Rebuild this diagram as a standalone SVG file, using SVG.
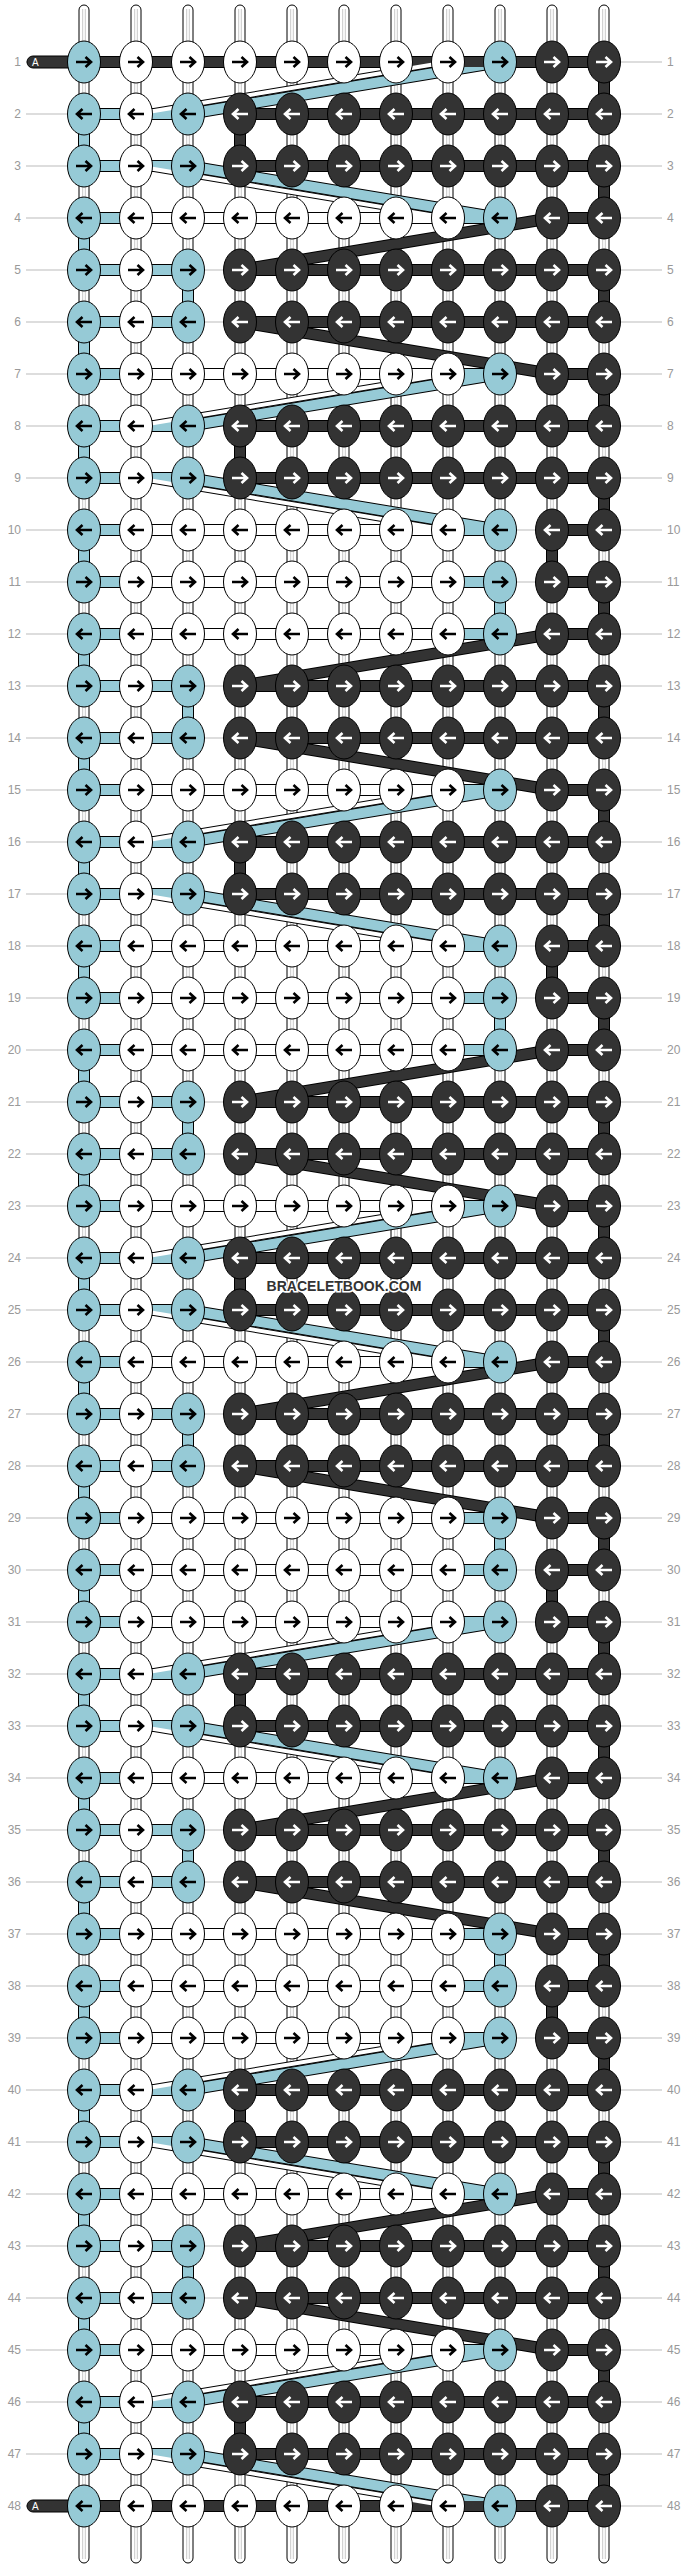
<svg xmlns="http://www.w3.org/2000/svg" width="688" height="2568" viewBox="0 0 688 2568">
<style>
.kb{fill:#96cad6;stroke:#000;stroke-width:1}
.kw{fill:#fff;stroke:#000;stroke-width:1}
.kd{fill:#333;stroke:#000;stroke-width:1}
.ak{fill:none;stroke:#000;stroke-width:2.6}
.aw{fill:none;stroke:#fff;stroke-width:2.6}
.lbl{font-family:"Liberation Sans",Arial,sans-serif;font-size:12px;fill:#999;text-anchor:end}
.lbr{font-family:"Liberation Sans",Arial,sans-serif;font-size:12px;fill:#999;text-anchor:start}
</style>
<defs>
<g id="tube"><rect x="-5" y="5" width="10" height="2558" rx="5" fill="#fff" stroke="#000"/><path d="M-1.3 9V2559M1.3 9V2559" stroke="#c8c8c8" fill="none"/></g>
<path id="aR" d="M-8 0H6M1.5-5L7 0L1.5 5"/>
<path id="aL" d="M8 0H-6M-1.5-5L-7 0L-1.5 5"/>
<g id="BR"><ellipse rx="16.5" ry="21" class="kb"/><use href="#aR" class="ak"/></g>
<g id="BL"><ellipse rx="16.5" ry="21" class="kb"/><use href="#aL" class="ak"/></g>
<g id="WR"><ellipse rx="16.5" ry="21" class="kw"/><use href="#aR" class="ak"/></g>
<g id="WL"><ellipse rx="16.5" ry="21" class="kw"/><use href="#aL" class="ak"/></g>
<g id="DR"><ellipse rx="16.5" ry="21" class="kd"/><use href="#aR" class="aw"/></g>
<g id="DL"><ellipse rx="16.5" ry="21" class="kd"/><use href="#aL" class="aw"/></g>
<path id="cD" d="M84 62H604M84 2506H604M552 218H604M552 374H604M552 530H604M552 582H604M552 634H604M552 790H604M552 946H604M552 998H604M552 1050H604M552 1206H604M552 1362H604M552 1518H604M552 1570H604M552 1622H604M552 1778H604M552 1934H604M552 1986H604M552 2038H604M552 2194H604M552 2350H604M240 114H604M240 166H604M240 270H604M240 322H604M240 426H604M240 478H604M240 686H604M240 738H604M240 842H604M240 894H604M240 1102H604M240 1154H604M240 1258H604M240 1310H604M240 1414H604M240 1466H604M240 1674H604M240 1726H604M240 1830H604M240 1882H604M240 2090H604M240 2142H604M240 2246H604M240 2298H604M240 2402H604M240 2454H604M604 62V114M604 166V218M604 270V322M604 374V426M604 478V530M604 582V634M604 686V738M604 790V842M604 894V946M604 998V1050M604 1102V1154M604 1206V1258M604 1310V1362M604 1414V1466M604 1518V1570M604 1622V1674M604 1726V1778M604 1830V1882M604 1934V1986M604 2038V2090M604 2142V2194M604 2246V2298M604 2350V2402M604 2454V2506M240 114V166M240 426V478M240 842V894M240 1258V1310M240 1674V1726M240 2090V2142M240 2402V2454M552 530V582M552 946V998M552 1570V1622M552 1986V2038M552 218L240 270M552 634L240 686M552 1050L240 1102M552 1362L240 1414M552 1778L240 1830M552 2194L240 2246M240 322L552 374M240 738L552 790M240 1154L552 1206M240 1466L552 1518M240 1882L552 1934M240 2298L552 2350"/>
<path id="cB" d="M84 218H136M448 218H500M84 374H136M448 374H500M84 530H136M448 530H500M84 582H136M448 582H500M84 634H136M448 634H500M84 790H136M448 790H500M84 946H136M448 946H500M84 998H136M448 998H500M84 1050H136M448 1050H500M84 1206H136M448 1206H500M84 1362H136M448 1362H500M84 1518H136M448 1518H500M84 1570H136M448 1570H500M84 1622H136M448 1622H500M84 1778H136M448 1778H500M84 1934H136M448 1934H500M84 1986H136M448 1986H500M84 2038H136M448 2038H500M84 2194H136M448 2194H500M84 2350H136M448 2350H500M84 114H188M84 166H188M84 270H188M84 322H188M84 426H188M84 478H188M84 686H188M84 738H188M84 842H188M84 894H188M84 1102H188M84 1154H188M84 1258H188M84 1310H188M84 1414H188M84 1466H188M84 1674H188M84 1726H188M84 1830H188M84 1882H188M84 2090H188M84 2142H188M84 2246H188M84 2298H188M84 2402H188M84 2454H188M84 114V166M84 218V270M84 322V374M84 426V478M84 530V582M84 634V686M84 738V790M84 842V894M84 946V998M84 1050V1102M84 1154V1206M84 1258V1310M84 1362V1414M84 1466V1518M84 1570V1622M84 1674V1726M84 1778V1830M84 1882V1934M84 1986V2038M84 2090V2142M84 2194V2246M84 2298V2350M84 2402V2454M188 270V322M188 686V738M188 1102V1154M188 1414V1466M188 1830V1882M188 2246V2298M500 582V634M500 998V1050M500 1518V1570M500 1934V1986M500 62L188 114M500 374L188 426M500 790L188 842M500 1206L188 1258M500 1622L188 1674M500 2038L188 2090M500 2350L188 2402M188 166L500 218M188 478L500 530M188 894L500 946M188 1310L500 1362M188 1726L500 1778M188 2142L500 2194M188 2454L500 2506"/>
<path id="cW" d="M136 218H448M136 374H448M136 530H448M136 582H448M136 634H448M136 790H448M136 946H448M136 998H448M136 1050H448M136 1206H448M136 1362H448M136 1518H448M136 1570H448M136 1622H448M136 1778H448M136 1934H448M136 1986H448M136 2038H448M136 2194H448M136 2350H448"/>
<path id="cWd" d="M448 62L136 114M448 374L136 426M448 790L136 842M448 1206L136 1258M448 1622L136 1674M448 2038L136 2090M448 2350L136 2402M136 166L448 218M136 478L448 530M136 894L448 946M136 1310L448 1362M136 1726L448 1778M136 2142L448 2194M136 2454L448 2506"/>
</defs>
<rect width="688" height="2568" fill="#fff"/>
<g id="guides">
<path d="M26 62H662M26 114H662M26 166H662M26 218H662M26 270H662M26 322H662M26 374H662M26 426H662M26 478H662M26 530H662M26 582H662M26 634H662M26 686H662M26 738H662M26 790H662M26 842H662M26 894H662M26 946H662M26 998H662M26 1050H662M26 1102H662M26 1154H662M26 1206H662M26 1258H662M26 1310H662M26 1362H662M26 1414H662M26 1466H662M26 1518H662M26 1570H662M26 1622H662M26 1674H662M26 1726H662M26 1778H662M26 1830H662M26 1882H662M26 1934H662M26 1986H662M26 2038H662M26 2090H662M26 2142H662M26 2194H662M26 2246H662M26 2298H662M26 2350H662M26 2402H662M26 2454H662M26 2506H662" stroke="#bbb" stroke-width="1" fill="none"/>
</g>
<g id="labels">
<text class="lbl" x="21" y="66">1</text><text class="lbr" x="667" y="66">1</text>
<text class="lbl" x="21" y="118">2</text><text class="lbr" x="667" y="118">2</text>
<text class="lbl" x="21" y="170">3</text><text class="lbr" x="667" y="170">3</text>
<text class="lbl" x="21" y="222">4</text><text class="lbr" x="667" y="222">4</text>
<text class="lbl" x="21" y="274">5</text><text class="lbr" x="667" y="274">5</text>
<text class="lbl" x="21" y="326">6</text><text class="lbr" x="667" y="326">6</text>
<text class="lbl" x="21" y="378">7</text><text class="lbr" x="667" y="378">7</text>
<text class="lbl" x="21" y="430">8</text><text class="lbr" x="667" y="430">8</text>
<text class="lbl" x="21" y="482">9</text><text class="lbr" x="667" y="482">9</text>
<text class="lbl" x="21" y="534">10</text><text class="lbr" x="667" y="534">10</text>
<text class="lbl" x="21" y="586">11</text><text class="lbr" x="667" y="586">11</text>
<text class="lbl" x="21" y="638">12</text><text class="lbr" x="667" y="638">12</text>
<text class="lbl" x="21" y="690">13</text><text class="lbr" x="667" y="690">13</text>
<text class="lbl" x="21" y="742">14</text><text class="lbr" x="667" y="742">14</text>
<text class="lbl" x="21" y="794">15</text><text class="lbr" x="667" y="794">15</text>
<text class="lbl" x="21" y="846">16</text><text class="lbr" x="667" y="846">16</text>
<text class="lbl" x="21" y="898">17</text><text class="lbr" x="667" y="898">17</text>
<text class="lbl" x="21" y="950">18</text><text class="lbr" x="667" y="950">18</text>
<text class="lbl" x="21" y="1002">19</text><text class="lbr" x="667" y="1002">19</text>
<text class="lbl" x="21" y="1054">20</text><text class="lbr" x="667" y="1054">20</text>
<text class="lbl" x="21" y="1106">21</text><text class="lbr" x="667" y="1106">21</text>
<text class="lbl" x="21" y="1158">22</text><text class="lbr" x="667" y="1158">22</text>
<text class="lbl" x="21" y="1210">23</text><text class="lbr" x="667" y="1210">23</text>
<text class="lbl" x="21" y="1262">24</text><text class="lbr" x="667" y="1262">24</text>
<text class="lbl" x="21" y="1314">25</text><text class="lbr" x="667" y="1314">25</text>
<text class="lbl" x="21" y="1366">26</text><text class="lbr" x="667" y="1366">26</text>
<text class="lbl" x="21" y="1418">27</text><text class="lbr" x="667" y="1418">27</text>
<text class="lbl" x="21" y="1470">28</text><text class="lbr" x="667" y="1470">28</text>
<text class="lbl" x="21" y="1522">29</text><text class="lbr" x="667" y="1522">29</text>
<text class="lbl" x="21" y="1574">30</text><text class="lbr" x="667" y="1574">30</text>
<text class="lbl" x="21" y="1626">31</text><text class="lbr" x="667" y="1626">31</text>
<text class="lbl" x="21" y="1678">32</text><text class="lbr" x="667" y="1678">32</text>
<text class="lbl" x="21" y="1730">33</text><text class="lbr" x="667" y="1730">33</text>
<text class="lbl" x="21" y="1782">34</text><text class="lbr" x="667" y="1782">34</text>
<text class="lbl" x="21" y="1834">35</text><text class="lbr" x="667" y="1834">35</text>
<text class="lbl" x="21" y="1886">36</text><text class="lbr" x="667" y="1886">36</text>
<text class="lbl" x="21" y="1938">37</text><text class="lbr" x="667" y="1938">37</text>
<text class="lbl" x="21" y="1990">38</text><text class="lbr" x="667" y="1990">38</text>
<text class="lbl" x="21" y="2042">39</text><text class="lbr" x="667" y="2042">39</text>
<text class="lbl" x="21" y="2094">40</text><text class="lbr" x="667" y="2094">40</text>
<text class="lbl" x="21" y="2146">41</text><text class="lbr" x="667" y="2146">41</text>
<text class="lbl" x="21" y="2198">42</text><text class="lbr" x="667" y="2198">42</text>
<text class="lbl" x="21" y="2250">43</text><text class="lbr" x="667" y="2250">43</text>
<text class="lbl" x="21" y="2302">44</text><text class="lbr" x="667" y="2302">44</text>
<text class="lbl" x="21" y="2354">45</text><text class="lbr" x="667" y="2354">45</text>
<text class="lbl" x="21" y="2406">46</text><text class="lbr" x="667" y="2406">46</text>
<text class="lbl" x="21" y="2458">47</text><text class="lbr" x="667" y="2458">47</text>
<text class="lbl" x="21" y="2510">48</text><text class="lbr" x="667" y="2510">48</text>
</g>
<g id="strings">
<use href="#tube" x="84"/><use href="#tube" x="136"/><use href="#tube" x="188"/><use href="#tube" x="240"/><use href="#tube" x="292"/><use href="#tube" x="344"/><use href="#tube" x="396"/><use href="#tube" x="448"/><use href="#tube" x="500"/><use href="#tube" x="552"/><use href="#tube" x="604"/>
</g>
<g id="connectors" fill="none">
<use href="#cD" stroke="#000" stroke-width="12"/>
<use href="#cB" stroke="#000" stroke-width="12"/>
<use href="#cW" stroke="#000" stroke-width="12"/>
<use href="#cWd" stroke="#000" stroke-width="6"/>
<use href="#cW" stroke="#fff" stroke-width="10"/>
<use href="#cB" stroke="#96cad6" stroke-width="10"/>
<use href="#cD" stroke="#333" stroke-width="10"/>
<use href="#cWd" stroke="#fff" stroke-width="4"/>
</g>
<g id="startA">
<rect x="27" y="56" width="60" height="12" rx="6" fill="#333" stroke="#000"/>
<text x="32" y="66" font-family="Liberation Sans,Arial,sans-serif" font-size="10" fill="#fff">A</text>
</g>
<g id="endA">
<rect x="27" y="2500" width="60" height="12" rx="6" fill="#333" stroke="#000"/>
<text x="32" y="2510" font-family="Liberation Sans,Arial,sans-serif" font-size="10" fill="#fff">A</text>
</g>
<g id="knots">
<g id="row1" transform="translate(0 62)"><use id="k1-1" href="#BR" x="84"/><use id="k1-2" href="#WR" x="136"/><use id="k1-3" href="#WR" x="188"/><use id="k1-4" href="#WR" x="240"/><use id="k1-5" href="#WR" x="292"/><use id="k1-6" href="#WR" x="344"/><use id="k1-7" href="#WR" x="396"/><use id="k1-8" href="#WR" x="448"/><use id="k1-9" href="#BR" x="500"/><use id="k1-10" href="#DR" x="552"/><use id="k1-11" href="#DR" x="604"/></g>
<g id="row2" transform="translate(0 114)"><use id="k2-1" href="#BL" x="84"/><use id="k2-2" href="#WL" x="136"/><use id="k2-3" href="#BL" x="188"/><use id="k2-4" href="#DL" x="240"/><use id="k2-5" href="#DL" x="292"/><use id="k2-6" href="#DL" x="344"/><use id="k2-7" href="#DL" x="396"/><use id="k2-8" href="#DL" x="448"/><use id="k2-9" href="#DL" x="500"/><use id="k2-10" href="#DL" x="552"/><use id="k2-11" href="#DL" x="604"/></g>
<g id="row3" transform="translate(0 166)"><use id="k3-1" href="#BR" x="84"/><use id="k3-2" href="#WR" x="136"/><use id="k3-3" href="#BR" x="188"/><use id="k3-4" href="#DR" x="240"/><use id="k3-5" href="#DR" x="292"/><use id="k3-6" href="#DR" x="344"/><use id="k3-7" href="#DR" x="396"/><use id="k3-8" href="#DR" x="448"/><use id="k3-9" href="#DR" x="500"/><use id="k3-10" href="#DR" x="552"/><use id="k3-11" href="#DR" x="604"/></g>
<g id="row4" transform="translate(0 218)"><use id="k4-1" href="#BL" x="84"/><use id="k4-2" href="#WL" x="136"/><use id="k4-3" href="#WL" x="188"/><use id="k4-4" href="#WL" x="240"/><use id="k4-5" href="#WL" x="292"/><use id="k4-6" href="#WL" x="344"/><use id="k4-7" href="#WL" x="396"/><use id="k4-8" href="#WL" x="448"/><use id="k4-9" href="#BL" x="500"/><use id="k4-10" href="#DL" x="552"/><use id="k4-11" href="#DL" x="604"/></g>
<g id="row5" transform="translate(0 270)"><use id="k5-1" href="#BR" x="84"/><use id="k5-2" href="#WR" x="136"/><use id="k5-3" href="#BR" x="188"/><use id="k5-4" href="#DR" x="240"/><use id="k5-5" href="#DR" x="292"/><use id="k5-6" href="#DR" x="344"/><use id="k5-7" href="#DR" x="396"/><use id="k5-8" href="#DR" x="448"/><use id="k5-9" href="#DR" x="500"/><use id="k5-10" href="#DR" x="552"/><use id="k5-11" href="#DR" x="604"/></g>
<g id="row6" transform="translate(0 322)"><use id="k6-1" href="#BL" x="84"/><use id="k6-2" href="#WL" x="136"/><use id="k6-3" href="#BL" x="188"/><use id="k6-4" href="#DL" x="240"/><use id="k6-5" href="#DL" x="292"/><use id="k6-6" href="#DL" x="344"/><use id="k6-7" href="#DL" x="396"/><use id="k6-8" href="#DL" x="448"/><use id="k6-9" href="#DL" x="500"/><use id="k6-10" href="#DL" x="552"/><use id="k6-11" href="#DL" x="604"/></g>
<g id="row7" transform="translate(0 374)"><use id="k7-1" href="#BR" x="84"/><use id="k7-2" href="#WR" x="136"/><use id="k7-3" href="#WR" x="188"/><use id="k7-4" href="#WR" x="240"/><use id="k7-5" href="#WR" x="292"/><use id="k7-6" href="#WR" x="344"/><use id="k7-7" href="#WR" x="396"/><use id="k7-8" href="#WR" x="448"/><use id="k7-9" href="#BR" x="500"/><use id="k7-10" href="#DR" x="552"/><use id="k7-11" href="#DR" x="604"/></g>
<g id="row8" transform="translate(0 426)"><use id="k8-1" href="#BL" x="84"/><use id="k8-2" href="#WL" x="136"/><use id="k8-3" href="#BL" x="188"/><use id="k8-4" href="#DL" x="240"/><use id="k8-5" href="#DL" x="292"/><use id="k8-6" href="#DL" x="344"/><use id="k8-7" href="#DL" x="396"/><use id="k8-8" href="#DL" x="448"/><use id="k8-9" href="#DL" x="500"/><use id="k8-10" href="#DL" x="552"/><use id="k8-11" href="#DL" x="604"/></g>
<g id="row9" transform="translate(0 478)"><use id="k9-1" href="#BR" x="84"/><use id="k9-2" href="#WR" x="136"/><use id="k9-3" href="#BR" x="188"/><use id="k9-4" href="#DR" x="240"/><use id="k9-5" href="#DR" x="292"/><use id="k9-6" href="#DR" x="344"/><use id="k9-7" href="#DR" x="396"/><use id="k9-8" href="#DR" x="448"/><use id="k9-9" href="#DR" x="500"/><use id="k9-10" href="#DR" x="552"/><use id="k9-11" href="#DR" x="604"/></g>
<g id="row10" transform="translate(0 530)"><use id="k10-1" href="#BL" x="84"/><use id="k10-2" href="#WL" x="136"/><use id="k10-3" href="#WL" x="188"/><use id="k10-4" href="#WL" x="240"/><use id="k10-5" href="#WL" x="292"/><use id="k10-6" href="#WL" x="344"/><use id="k10-7" href="#WL" x="396"/><use id="k10-8" href="#WL" x="448"/><use id="k10-9" href="#BL" x="500"/><use id="k10-10" href="#DL" x="552"/><use id="k10-11" href="#DL" x="604"/></g>
<g id="row11" transform="translate(0 582)"><use id="k11-1" href="#BR" x="84"/><use id="k11-2" href="#WR" x="136"/><use id="k11-3" href="#WR" x="188"/><use id="k11-4" href="#WR" x="240"/><use id="k11-5" href="#WR" x="292"/><use id="k11-6" href="#WR" x="344"/><use id="k11-7" href="#WR" x="396"/><use id="k11-8" href="#WR" x="448"/><use id="k11-9" href="#BR" x="500"/><use id="k11-10" href="#DR" x="552"/><use id="k11-11" href="#DR" x="604"/></g>
<g id="row12" transform="translate(0 634)"><use id="k12-1" href="#BL" x="84"/><use id="k12-2" href="#WL" x="136"/><use id="k12-3" href="#WL" x="188"/><use id="k12-4" href="#WL" x="240"/><use id="k12-5" href="#WL" x="292"/><use id="k12-6" href="#WL" x="344"/><use id="k12-7" href="#WL" x="396"/><use id="k12-8" href="#WL" x="448"/><use id="k12-9" href="#BL" x="500"/><use id="k12-10" href="#DL" x="552"/><use id="k12-11" href="#DL" x="604"/></g>
<g id="row13" transform="translate(0 686)"><use id="k13-1" href="#BR" x="84"/><use id="k13-2" href="#WR" x="136"/><use id="k13-3" href="#BR" x="188"/><use id="k13-4" href="#DR" x="240"/><use id="k13-5" href="#DR" x="292"/><use id="k13-6" href="#DR" x="344"/><use id="k13-7" href="#DR" x="396"/><use id="k13-8" href="#DR" x="448"/><use id="k13-9" href="#DR" x="500"/><use id="k13-10" href="#DR" x="552"/><use id="k13-11" href="#DR" x="604"/></g>
<g id="row14" transform="translate(0 738)"><use id="k14-1" href="#BL" x="84"/><use id="k14-2" href="#WL" x="136"/><use id="k14-3" href="#BL" x="188"/><use id="k14-4" href="#DL" x="240"/><use id="k14-5" href="#DL" x="292"/><use id="k14-6" href="#DL" x="344"/><use id="k14-7" href="#DL" x="396"/><use id="k14-8" href="#DL" x="448"/><use id="k14-9" href="#DL" x="500"/><use id="k14-10" href="#DL" x="552"/><use id="k14-11" href="#DL" x="604"/></g>
<g id="row15" transform="translate(0 790)"><use id="k15-1" href="#BR" x="84"/><use id="k15-2" href="#WR" x="136"/><use id="k15-3" href="#WR" x="188"/><use id="k15-4" href="#WR" x="240"/><use id="k15-5" href="#WR" x="292"/><use id="k15-6" href="#WR" x="344"/><use id="k15-7" href="#WR" x="396"/><use id="k15-8" href="#WR" x="448"/><use id="k15-9" href="#BR" x="500"/><use id="k15-10" href="#DR" x="552"/><use id="k15-11" href="#DR" x="604"/></g>
<g id="row16" transform="translate(0 842)"><use id="k16-1" href="#BL" x="84"/><use id="k16-2" href="#WL" x="136"/><use id="k16-3" href="#BL" x="188"/><use id="k16-4" href="#DL" x="240"/><use id="k16-5" href="#DL" x="292"/><use id="k16-6" href="#DL" x="344"/><use id="k16-7" href="#DL" x="396"/><use id="k16-8" href="#DL" x="448"/><use id="k16-9" href="#DL" x="500"/><use id="k16-10" href="#DL" x="552"/><use id="k16-11" href="#DL" x="604"/></g>
<g id="row17" transform="translate(0 894)"><use id="k17-1" href="#BR" x="84"/><use id="k17-2" href="#WR" x="136"/><use id="k17-3" href="#BR" x="188"/><use id="k17-4" href="#DR" x="240"/><use id="k17-5" href="#DR" x="292"/><use id="k17-6" href="#DR" x="344"/><use id="k17-7" href="#DR" x="396"/><use id="k17-8" href="#DR" x="448"/><use id="k17-9" href="#DR" x="500"/><use id="k17-10" href="#DR" x="552"/><use id="k17-11" href="#DR" x="604"/></g>
<g id="row18" transform="translate(0 946)"><use id="k18-1" href="#BL" x="84"/><use id="k18-2" href="#WL" x="136"/><use id="k18-3" href="#WL" x="188"/><use id="k18-4" href="#WL" x="240"/><use id="k18-5" href="#WL" x="292"/><use id="k18-6" href="#WL" x="344"/><use id="k18-7" href="#WL" x="396"/><use id="k18-8" href="#WL" x="448"/><use id="k18-9" href="#BL" x="500"/><use id="k18-10" href="#DL" x="552"/><use id="k18-11" href="#DL" x="604"/></g>
<g id="row19" transform="translate(0 998)"><use id="k19-1" href="#BR" x="84"/><use id="k19-2" href="#WR" x="136"/><use id="k19-3" href="#WR" x="188"/><use id="k19-4" href="#WR" x="240"/><use id="k19-5" href="#WR" x="292"/><use id="k19-6" href="#WR" x="344"/><use id="k19-7" href="#WR" x="396"/><use id="k19-8" href="#WR" x="448"/><use id="k19-9" href="#BR" x="500"/><use id="k19-10" href="#DR" x="552"/><use id="k19-11" href="#DR" x="604"/></g>
<g id="row20" transform="translate(0 1050)"><use id="k20-1" href="#BL" x="84"/><use id="k20-2" href="#WL" x="136"/><use id="k20-3" href="#WL" x="188"/><use id="k20-4" href="#WL" x="240"/><use id="k20-5" href="#WL" x="292"/><use id="k20-6" href="#WL" x="344"/><use id="k20-7" href="#WL" x="396"/><use id="k20-8" href="#WL" x="448"/><use id="k20-9" href="#BL" x="500"/><use id="k20-10" href="#DL" x="552"/><use id="k20-11" href="#DL" x="604"/></g>
<g id="row21" transform="translate(0 1102)"><use id="k21-1" href="#BR" x="84"/><use id="k21-2" href="#WR" x="136"/><use id="k21-3" href="#BR" x="188"/><use id="k21-4" href="#DR" x="240"/><use id="k21-5" href="#DR" x="292"/><use id="k21-6" href="#DR" x="344"/><use id="k21-7" href="#DR" x="396"/><use id="k21-8" href="#DR" x="448"/><use id="k21-9" href="#DR" x="500"/><use id="k21-10" href="#DR" x="552"/><use id="k21-11" href="#DR" x="604"/></g>
<g id="row22" transform="translate(0 1154)"><use id="k22-1" href="#BL" x="84"/><use id="k22-2" href="#WL" x="136"/><use id="k22-3" href="#BL" x="188"/><use id="k22-4" href="#DL" x="240"/><use id="k22-5" href="#DL" x="292"/><use id="k22-6" href="#DL" x="344"/><use id="k22-7" href="#DL" x="396"/><use id="k22-8" href="#DL" x="448"/><use id="k22-9" href="#DL" x="500"/><use id="k22-10" href="#DL" x="552"/><use id="k22-11" href="#DL" x="604"/></g>
<g id="row23" transform="translate(0 1206)"><use id="k23-1" href="#BR" x="84"/><use id="k23-2" href="#WR" x="136"/><use id="k23-3" href="#WR" x="188"/><use id="k23-4" href="#WR" x="240"/><use id="k23-5" href="#WR" x="292"/><use id="k23-6" href="#WR" x="344"/><use id="k23-7" href="#WR" x="396"/><use id="k23-8" href="#WR" x="448"/><use id="k23-9" href="#BR" x="500"/><use id="k23-10" href="#DR" x="552"/><use id="k23-11" href="#DR" x="604"/></g>
<g id="row24" transform="translate(0 1258)"><use id="k24-1" href="#BL" x="84"/><use id="k24-2" href="#WL" x="136"/><use id="k24-3" href="#BL" x="188"/><use id="k24-4" href="#DL" x="240"/><use id="k24-5" href="#DL" x="292"/><use id="k24-6" href="#DL" x="344"/><use id="k24-7" href="#DL" x="396"/><use id="k24-8" href="#DL" x="448"/><use id="k24-9" href="#DL" x="500"/><use id="k24-10" href="#DL" x="552"/><use id="k24-11" href="#DL" x="604"/></g>
<g id="row25" transform="translate(0 1310)"><use id="k25-1" href="#BR" x="84"/><use id="k25-2" href="#WR" x="136"/><use id="k25-3" href="#BR" x="188"/><use id="k25-4" href="#DR" x="240"/><use id="k25-5" href="#DR" x="292"/><use id="k25-6" href="#DR" x="344"/><use id="k25-7" href="#DR" x="396"/><use id="k25-8" href="#DR" x="448"/><use id="k25-9" href="#DR" x="500"/><use id="k25-10" href="#DR" x="552"/><use id="k25-11" href="#DR" x="604"/></g>
<g id="row26" transform="translate(0 1362)"><use id="k26-1" href="#BL" x="84"/><use id="k26-2" href="#WL" x="136"/><use id="k26-3" href="#WL" x="188"/><use id="k26-4" href="#WL" x="240"/><use id="k26-5" href="#WL" x="292"/><use id="k26-6" href="#WL" x="344"/><use id="k26-7" href="#WL" x="396"/><use id="k26-8" href="#WL" x="448"/><use id="k26-9" href="#BL" x="500"/><use id="k26-10" href="#DL" x="552"/><use id="k26-11" href="#DL" x="604"/></g>
<g id="row27" transform="translate(0 1414)"><use id="k27-1" href="#BR" x="84"/><use id="k27-2" href="#WR" x="136"/><use id="k27-3" href="#BR" x="188"/><use id="k27-4" href="#DR" x="240"/><use id="k27-5" href="#DR" x="292"/><use id="k27-6" href="#DR" x="344"/><use id="k27-7" href="#DR" x="396"/><use id="k27-8" href="#DR" x="448"/><use id="k27-9" href="#DR" x="500"/><use id="k27-10" href="#DR" x="552"/><use id="k27-11" href="#DR" x="604"/></g>
<g id="row28" transform="translate(0 1466)"><use id="k28-1" href="#BL" x="84"/><use id="k28-2" href="#WL" x="136"/><use id="k28-3" href="#BL" x="188"/><use id="k28-4" href="#DL" x="240"/><use id="k28-5" href="#DL" x="292"/><use id="k28-6" href="#DL" x="344"/><use id="k28-7" href="#DL" x="396"/><use id="k28-8" href="#DL" x="448"/><use id="k28-9" href="#DL" x="500"/><use id="k28-10" href="#DL" x="552"/><use id="k28-11" href="#DL" x="604"/></g>
<g id="row29" transform="translate(0 1518)"><use id="k29-1" href="#BR" x="84"/><use id="k29-2" href="#WR" x="136"/><use id="k29-3" href="#WR" x="188"/><use id="k29-4" href="#WR" x="240"/><use id="k29-5" href="#WR" x="292"/><use id="k29-6" href="#WR" x="344"/><use id="k29-7" href="#WR" x="396"/><use id="k29-8" href="#WR" x="448"/><use id="k29-9" href="#BR" x="500"/><use id="k29-10" href="#DR" x="552"/><use id="k29-11" href="#DR" x="604"/></g>
<g id="row30" transform="translate(0 1570)"><use id="k30-1" href="#BL" x="84"/><use id="k30-2" href="#WL" x="136"/><use id="k30-3" href="#WL" x="188"/><use id="k30-4" href="#WL" x="240"/><use id="k30-5" href="#WL" x="292"/><use id="k30-6" href="#WL" x="344"/><use id="k30-7" href="#WL" x="396"/><use id="k30-8" href="#WL" x="448"/><use id="k30-9" href="#BL" x="500"/><use id="k30-10" href="#DL" x="552"/><use id="k30-11" href="#DL" x="604"/></g>
<g id="row31" transform="translate(0 1622)"><use id="k31-1" href="#BR" x="84"/><use id="k31-2" href="#WR" x="136"/><use id="k31-3" href="#WR" x="188"/><use id="k31-4" href="#WR" x="240"/><use id="k31-5" href="#WR" x="292"/><use id="k31-6" href="#WR" x="344"/><use id="k31-7" href="#WR" x="396"/><use id="k31-8" href="#WR" x="448"/><use id="k31-9" href="#BR" x="500"/><use id="k31-10" href="#DR" x="552"/><use id="k31-11" href="#DR" x="604"/></g>
<g id="row32" transform="translate(0 1674)"><use id="k32-1" href="#BL" x="84"/><use id="k32-2" href="#WL" x="136"/><use id="k32-3" href="#BL" x="188"/><use id="k32-4" href="#DL" x="240"/><use id="k32-5" href="#DL" x="292"/><use id="k32-6" href="#DL" x="344"/><use id="k32-7" href="#DL" x="396"/><use id="k32-8" href="#DL" x="448"/><use id="k32-9" href="#DL" x="500"/><use id="k32-10" href="#DL" x="552"/><use id="k32-11" href="#DL" x="604"/></g>
<g id="row33" transform="translate(0 1726)"><use id="k33-1" href="#BR" x="84"/><use id="k33-2" href="#WR" x="136"/><use id="k33-3" href="#BR" x="188"/><use id="k33-4" href="#DR" x="240"/><use id="k33-5" href="#DR" x="292"/><use id="k33-6" href="#DR" x="344"/><use id="k33-7" href="#DR" x="396"/><use id="k33-8" href="#DR" x="448"/><use id="k33-9" href="#DR" x="500"/><use id="k33-10" href="#DR" x="552"/><use id="k33-11" href="#DR" x="604"/></g>
<g id="row34" transform="translate(0 1778)"><use id="k34-1" href="#BL" x="84"/><use id="k34-2" href="#WL" x="136"/><use id="k34-3" href="#WL" x="188"/><use id="k34-4" href="#WL" x="240"/><use id="k34-5" href="#WL" x="292"/><use id="k34-6" href="#WL" x="344"/><use id="k34-7" href="#WL" x="396"/><use id="k34-8" href="#WL" x="448"/><use id="k34-9" href="#BL" x="500"/><use id="k34-10" href="#DL" x="552"/><use id="k34-11" href="#DL" x="604"/></g>
<g id="row35" transform="translate(0 1830)"><use id="k35-1" href="#BR" x="84"/><use id="k35-2" href="#WR" x="136"/><use id="k35-3" href="#BR" x="188"/><use id="k35-4" href="#DR" x="240"/><use id="k35-5" href="#DR" x="292"/><use id="k35-6" href="#DR" x="344"/><use id="k35-7" href="#DR" x="396"/><use id="k35-8" href="#DR" x="448"/><use id="k35-9" href="#DR" x="500"/><use id="k35-10" href="#DR" x="552"/><use id="k35-11" href="#DR" x="604"/></g>
<g id="row36" transform="translate(0 1882)"><use id="k36-1" href="#BL" x="84"/><use id="k36-2" href="#WL" x="136"/><use id="k36-3" href="#BL" x="188"/><use id="k36-4" href="#DL" x="240"/><use id="k36-5" href="#DL" x="292"/><use id="k36-6" href="#DL" x="344"/><use id="k36-7" href="#DL" x="396"/><use id="k36-8" href="#DL" x="448"/><use id="k36-9" href="#DL" x="500"/><use id="k36-10" href="#DL" x="552"/><use id="k36-11" href="#DL" x="604"/></g>
<g id="row37" transform="translate(0 1934)"><use id="k37-1" href="#BR" x="84"/><use id="k37-2" href="#WR" x="136"/><use id="k37-3" href="#WR" x="188"/><use id="k37-4" href="#WR" x="240"/><use id="k37-5" href="#WR" x="292"/><use id="k37-6" href="#WR" x="344"/><use id="k37-7" href="#WR" x="396"/><use id="k37-8" href="#WR" x="448"/><use id="k37-9" href="#BR" x="500"/><use id="k37-10" href="#DR" x="552"/><use id="k37-11" href="#DR" x="604"/></g>
<g id="row38" transform="translate(0 1986)"><use id="k38-1" href="#BL" x="84"/><use id="k38-2" href="#WL" x="136"/><use id="k38-3" href="#WL" x="188"/><use id="k38-4" href="#WL" x="240"/><use id="k38-5" href="#WL" x="292"/><use id="k38-6" href="#WL" x="344"/><use id="k38-7" href="#WL" x="396"/><use id="k38-8" href="#WL" x="448"/><use id="k38-9" href="#BL" x="500"/><use id="k38-10" href="#DL" x="552"/><use id="k38-11" href="#DL" x="604"/></g>
<g id="row39" transform="translate(0 2038)"><use id="k39-1" href="#BR" x="84"/><use id="k39-2" href="#WR" x="136"/><use id="k39-3" href="#WR" x="188"/><use id="k39-4" href="#WR" x="240"/><use id="k39-5" href="#WR" x="292"/><use id="k39-6" href="#WR" x="344"/><use id="k39-7" href="#WR" x="396"/><use id="k39-8" href="#WR" x="448"/><use id="k39-9" href="#BR" x="500"/><use id="k39-10" href="#DR" x="552"/><use id="k39-11" href="#DR" x="604"/></g>
<g id="row40" transform="translate(0 2090)"><use id="k40-1" href="#BL" x="84"/><use id="k40-2" href="#WL" x="136"/><use id="k40-3" href="#BL" x="188"/><use id="k40-4" href="#DL" x="240"/><use id="k40-5" href="#DL" x="292"/><use id="k40-6" href="#DL" x="344"/><use id="k40-7" href="#DL" x="396"/><use id="k40-8" href="#DL" x="448"/><use id="k40-9" href="#DL" x="500"/><use id="k40-10" href="#DL" x="552"/><use id="k40-11" href="#DL" x="604"/></g>
<g id="row41" transform="translate(0 2142)"><use id="k41-1" href="#BR" x="84"/><use id="k41-2" href="#WR" x="136"/><use id="k41-3" href="#BR" x="188"/><use id="k41-4" href="#DR" x="240"/><use id="k41-5" href="#DR" x="292"/><use id="k41-6" href="#DR" x="344"/><use id="k41-7" href="#DR" x="396"/><use id="k41-8" href="#DR" x="448"/><use id="k41-9" href="#DR" x="500"/><use id="k41-10" href="#DR" x="552"/><use id="k41-11" href="#DR" x="604"/></g>
<g id="row42" transform="translate(0 2194)"><use id="k42-1" href="#BL" x="84"/><use id="k42-2" href="#WL" x="136"/><use id="k42-3" href="#WL" x="188"/><use id="k42-4" href="#WL" x="240"/><use id="k42-5" href="#WL" x="292"/><use id="k42-6" href="#WL" x="344"/><use id="k42-7" href="#WL" x="396"/><use id="k42-8" href="#WL" x="448"/><use id="k42-9" href="#BL" x="500"/><use id="k42-10" href="#DL" x="552"/><use id="k42-11" href="#DL" x="604"/></g>
<g id="row43" transform="translate(0 2246)"><use id="k43-1" href="#BR" x="84"/><use id="k43-2" href="#WR" x="136"/><use id="k43-3" href="#BR" x="188"/><use id="k43-4" href="#DR" x="240"/><use id="k43-5" href="#DR" x="292"/><use id="k43-6" href="#DR" x="344"/><use id="k43-7" href="#DR" x="396"/><use id="k43-8" href="#DR" x="448"/><use id="k43-9" href="#DR" x="500"/><use id="k43-10" href="#DR" x="552"/><use id="k43-11" href="#DR" x="604"/></g>
<g id="row44" transform="translate(0 2298)"><use id="k44-1" href="#BL" x="84"/><use id="k44-2" href="#WL" x="136"/><use id="k44-3" href="#BL" x="188"/><use id="k44-4" href="#DL" x="240"/><use id="k44-5" href="#DL" x="292"/><use id="k44-6" href="#DL" x="344"/><use id="k44-7" href="#DL" x="396"/><use id="k44-8" href="#DL" x="448"/><use id="k44-9" href="#DL" x="500"/><use id="k44-10" href="#DL" x="552"/><use id="k44-11" href="#DL" x="604"/></g>
<g id="row45" transform="translate(0 2350)"><use id="k45-1" href="#BR" x="84"/><use id="k45-2" href="#WR" x="136"/><use id="k45-3" href="#WR" x="188"/><use id="k45-4" href="#WR" x="240"/><use id="k45-5" href="#WR" x="292"/><use id="k45-6" href="#WR" x="344"/><use id="k45-7" href="#WR" x="396"/><use id="k45-8" href="#WR" x="448"/><use id="k45-9" href="#BR" x="500"/><use id="k45-10" href="#DR" x="552"/><use id="k45-11" href="#DR" x="604"/></g>
<g id="row46" transform="translate(0 2402)"><use id="k46-1" href="#BL" x="84"/><use id="k46-2" href="#WL" x="136"/><use id="k46-3" href="#BL" x="188"/><use id="k46-4" href="#DL" x="240"/><use id="k46-5" href="#DL" x="292"/><use id="k46-6" href="#DL" x="344"/><use id="k46-7" href="#DL" x="396"/><use id="k46-8" href="#DL" x="448"/><use id="k46-9" href="#DL" x="500"/><use id="k46-10" href="#DL" x="552"/><use id="k46-11" href="#DL" x="604"/></g>
<g id="row47" transform="translate(0 2454)"><use id="k47-1" href="#BR" x="84"/><use id="k47-2" href="#WR" x="136"/><use id="k47-3" href="#BR" x="188"/><use id="k47-4" href="#DR" x="240"/><use id="k47-5" href="#DR" x="292"/><use id="k47-6" href="#DR" x="344"/><use id="k47-7" href="#DR" x="396"/><use id="k47-8" href="#DR" x="448"/><use id="k47-9" href="#DR" x="500"/><use id="k47-10" href="#DR" x="552"/><use id="k47-11" href="#DR" x="604"/></g>
<g id="row48" transform="translate(0 2506)"><use id="k48-1" href="#BL" x="84"/><use id="k48-2" href="#WL" x="136"/><use id="k48-3" href="#WL" x="188"/><use id="k48-4" href="#WL" x="240"/><use id="k48-5" href="#WL" x="292"/><use id="k48-6" href="#WL" x="344"/><use id="k48-7" href="#WL" x="396"/><use id="k48-8" href="#WL" x="448"/><use id="k48-9" href="#BL" x="500"/><use id="k48-10" href="#DL" x="552"/><use id="k48-11" href="#DL" x="604"/></g>
</g>
<g id="watermark">
<text x="344" y="1291" text-anchor="middle" font-family="Liberation Sans,Arial,sans-serif" font-weight="bold" font-size="14" fill="#333" stroke="#fff" stroke-width="3" paint-order="stroke">BRACELETBOOK.COM</text>
</g>
</svg>
